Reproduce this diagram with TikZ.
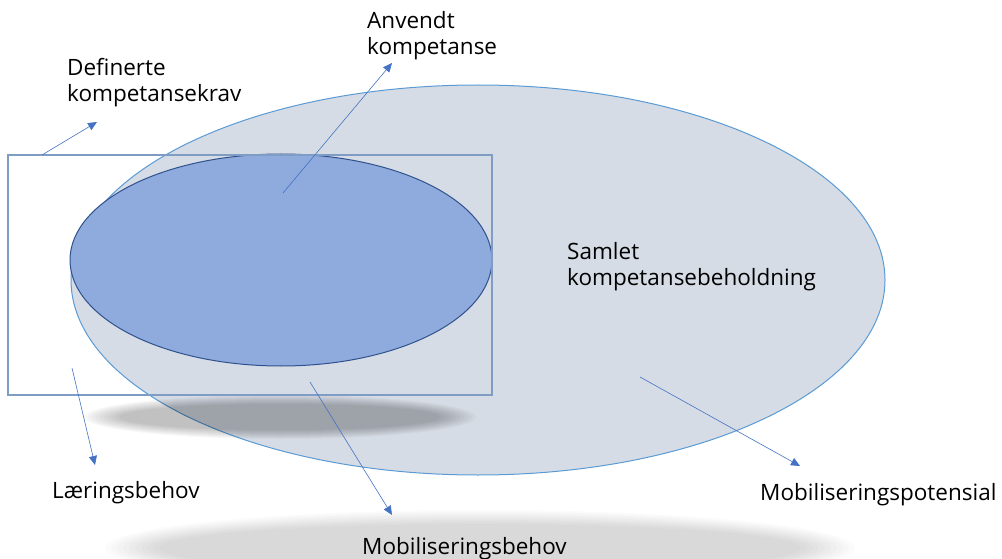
\documentclass[tikz,border=0pt]{standalone}
\usepackage{fontspec}
\setmainfont{Open Sans}
\usepackage{tikz}
\usetikzlibrary{arrows.meta}

\definecolor{outerfill}{HTML}{D6DCE5}
\definecolor{outerline}{HTML}{5B9BD5}
\definecolor{innerfill}{HTML}{8FAADC}
\definecolor{innerline}{HTML}{2F528F}
\definecolor{boxline}{HTML}{7F9DC4}
\definecolor{pointline}{HTML}{4472C4}

\tikzset{
  lbl/.style={anchor=base west, inner sep=0pt, align=left,
    font=\fontsize{22.5}{26}\selectfont},
  pointer/.style={pointline, line width=0.6pt,
    -{Triangle[length=9pt,width=8pt]}},
}

\begin{document}
\begin{tikzpicture}[x=1pt, y=-1pt, thin]
  \useasboundingbox (0,0) rectangle (1002,559);

  % soft shadows
  \foreach \i in {0,...,9}
    \fill[black, opacity=0.016] (480,548) ellipse [x radius={375pt-\i*6pt}, y radius={38pt-\i*1.6pt}];

  % samlet kompetanse
  \draw[outerline, fill=outerfill, line width=1pt] (478,280) ellipse [x radius=407pt, y radius=195pt];

  \foreach \i in {0,...,9}
    \fill[black, opacity=0.026] (280,417) ellipse [x radius={196pt-\i*4pt}, y radius={22pt-\i*1pt}];

  % anvendt kompetanse
  \draw[innerline, fill=innerfill, line width=1pt] (281,260) ellipse [x radius=211pt, y radius=106pt];

  % definerte krav
  \draw[boxline, line width=1.2pt] (8,155) rectangle (492,395);

  \node[lbl] (a) at (67,102) {Definerte\\kompetansekrav};
  \node[lbl] (b) at (367,55) {Anvendt\\kompetanse};
  \node[lbl] (c) at (567,285) {Samlet\\kompetansebeholdning};
  \node[lbl] (d) at (52,498) {Læringsbehov};
  \node[lbl] (e) at (362,554) {Mobiliseringsbehov};
  \node[lbl] (f) at (760,500) {Mobiliseringspotensial};

  \coordinate (a0) at (42,155);   \coordinate (a1) at (97,122);
  \coordinate (b0) at (283,193);  \coordinate (b1) at (392,63);
  \coordinate (d0) at (72,368);   \coordinate (d1) at (95,465);
  \coordinate (e0) at (310,382);  \coordinate (e1) at (392,515);
  \coordinate (f0) at (640,377);  \coordinate (f1) at (800,466);

  \draw[pointer] (a0) -- (a1);
  \draw[pointer] (b0) -- (b1);
  \draw[pointer] (d0) -- (d1);
  \draw[pointer] (e0) -- (e1);
  \draw[pointer] (f0) -- (f1);
\end{tikzpicture}
\end{document}
